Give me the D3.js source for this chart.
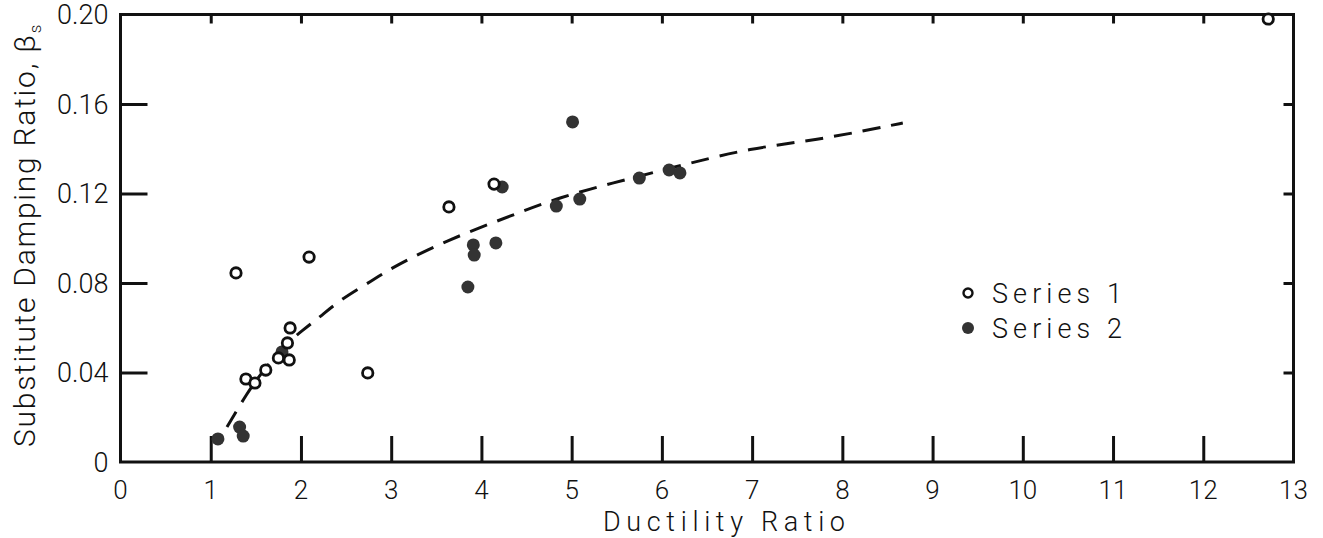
<!DOCTYPE html>
<html>
<head>
<meta charset="utf-8">
<script src="https://cdn.jsdelivr.net/npm/d3@7"></script>
<style>
  body { margin: 0; background: #fff; }
  text { font-family: Roboto, "DejaVu Sans", sans-serif; font-weight: 300; fill: #111; }
</style>
</head>
<body>
<svg class="svgChart"></svg>
<script>
// data
var series1X = [1.28, 2.09, 1.88, 1.85, 1.75, 1.87, 1.61, 1.39, 1.49, 2.74, 3.64, 4.14, 12.72];
var series1Y = [0.0845, 0.0916, 0.0599, 0.0532, 0.0465, 0.0456, 0.0411, 0.0371, 0.0353, 0.0398, 0.114, 0.1242, 0.198];

var series2X = [1.79, 1.32, 1.36, 1.08, 5.01, 4.23, 3.91, 3.92, 4.16, 3.85, 4.83, 5.09, 5.75, 6.08, 6.20];
var series2Y = [0.0492, 0.0156, 0.0116, 0.0103, 0.152, 0.1229, 0.097, 0.0925, 0.0979, 0.0782, 0.1144, 0.1175, 0.1269, 0.1305, 0.1292];

// dashed trend line
var curveX = [1.18, 1.41, 1.57, 1.82, 2.02, 2.21, 2.43, 2.80, 3.02, 3.62, 4.35, 4.87, 5.46, 6.01, 6.23, 6.98, 7.72, 8.45, 8.67];
var curveY = [0.0156, 0.0313, 0.0402, 0.0523, 0.059, 0.0648, 0.0724, 0.0813, 0.0872, 0.0992, 0.1104, 0.1184, 0.1247, 0.1305, 0.1327, 0.1403, 0.1439, 0.1497, 0.1515];

var xTicks = [0, 1, 2, 3, 4, 5, 6, 7, 8, 9, 10, 11, 12, 13];
var yTicks = [0, 0.04, 0.08, 0.12, 0.16, 0.20];
var yTickLabels = ['0', '0.04', '0.08', '0.12', '0.16', '0.20'];

var legendLabels = ['Series 1', 'Series 2'];

// set the dimensions and margins of the graph
var margin = {
  top: 14.5,
  right: 29.5,
  bottom: 76,
  left: 120.5
}

var width = 1323 - margin.left - margin.right;
var height = 538 - margin.top - margin.bottom;

var svg = d3.select('.svgChart')
    .attr('width', 1323)
    .attr('height', 538);

var g = svg.append('g')
    .attr('transform', 'translate(' + margin.left + ',' + margin.top + ')');

var xScale = d3.scaleLinear()
  .domain([0, 13])
  .range([0, width]);

var yScale = d3.scaleLinear()
  .domain([0, 0.2])
  .range([height, 0]);

var ink = '#111';

// frame
g.append('rect')
    .attr('width', width)
    .attr('height', height)
    .attr('fill', 'none')
    .attr('stroke', ink)
    .attr('stroke-width', 3);

// long inward ticks on bottom and left, short ones on top and right
var bottomAxis = d3.axisTop(xScale).tickValues(xTicks.slice(1, -1)).tickSize(26).tickFormat('');
var topAxis = d3.axisBottom(xScale).tickValues(xTicks.slice(1, -1)).tickSize(9).tickFormat('');
var leftAxis = d3.axisRight(yScale).tickValues(yTicks.slice(1, -1)).tickSize(27).tickFormat('');
var rightAxis = d3.axisLeft(yScale).tickValues(yTicks.slice(1, -1)).tickSize(10).tickFormat('');

g.append('g').attr('class', 'xAxis').attr('transform', 'translate(0,' + height + ')').call(bottomAxis);
g.append('g').attr('class', 'xAxisTop').call(topAxis);
g.append('g').attr('class', 'yAxis').call(leftAxis);
g.append('g').attr('class', 'yAxisRight').attr('transform', 'translate(' + width + ',0)').call(rightAxis);

g.selectAll('.domain').remove();
g.selectAll('.tick line')
    .attr('stroke', ink)
    .attr('stroke-width', 3);

// tick labels
g.append('g')
  .selectAll('text')
  .data(xTicks)
  .enter()
  .append('text')
    .attr('x', d => xScale(d))
    .attr('y', height + 37)
    .attr('text-anchor', 'middle')
    .style('font-size', '26px')
    .text(d => d);

g.append('g')
  .selectAll('text')
  .data(yTicks)
  .enter()
  .append('text')
    .attr('x', -12)
    .attr('y', d => yScale(d))
    .attr('dy', '0.36em')
    .attr('text-anchor', 'end')
    .style('font-size', '27px')
    .text((d, i) => yTickLabels[i]);

// axis titles
svg.append('text')
    .attr('x', 603)
    .attr('y', 531)
    .attr('textLength', 242)
    .attr('lengthAdjust', 'spacing')
    .style('font-size', '27px')
    .text('Ductility  Ratio');

var yTitle = svg.append('text')
    .attr('transform', 'translate(35,447) rotate(-90)')
    .style('font-size', '30px');
yTitle.append('tspan')
    .attr('textLength', 412)
    .attr('lengthAdjust', 'spacing')
    .text('Substitute Damping Ratio, β');
yTitle.append('tspan')
    .attr('dy', 6)
    .style('font-size', '17px')
    .text('s');

// dashed trend line
var lineData = curveX.map((d, i) => [d, curveY[i]]);
var line = d3.line()
  .x(d => xScale(d[0]))
  .y(d => yScale(d[1]))
  .curve(d3.curveBasis);

g.append('path')
    .datum(lineData)
    .attr('d', line)
    .attr('fill', 'none')
    .attr('stroke', ink)
    .attr('stroke-width', 3)
    .attr('stroke-dasharray', '18,11');

// points
g.append('g')
  .selectAll('circle')
  .data(series2X.map((d, i) => [d, series2Y[i]]))
  .enter()
  .append('circle')
    .attr('cx', d => xScale(d[0]))
    .attr('cy', d => yScale(d[1]))
    .attr('r', 6.5)
    .attr('fill', '#333');

g.append('g')
  .selectAll('circle')
  .data(series1X.map((d, i) => [d, series1Y[i]]))
  .enter()
  .append('circle')
    .attr('cx', d => xScale(d[0]))
    .attr('cy', d => yScale(d[1]))
    .attr('r', 5.2)
    .attr('fill', '#fff')
    .attr('stroke', ink)
    .attr('stroke-width', 2.8);

// legend
var legend = svg.append('g')
  .selectAll('g')
  .data(legendLabels)
  .enter()
  .append('g')
    .attr('transform', (d, i) => 'translate(968,' + (293 + i * 35) + ')');

legend.append('circle')
    .attr('r', (d, i) => i === 0 ? 4.5 : 6)
    .attr('fill', (d, i) => i === 0 ? '#fff' : '#333')
    .attr('stroke', (d, i) => i === 0 ? ink : 'none')
    .attr('stroke-width', 2.4);

legend.append('text')
    .attr('x', 24)
    .attr('y', 10)
    .attr('textLength', 130)
    .attr('lengthAdjust', 'spacing')
    .style('font-size', '27px')
    .text(d => d);
</script>
</body>
</html>
